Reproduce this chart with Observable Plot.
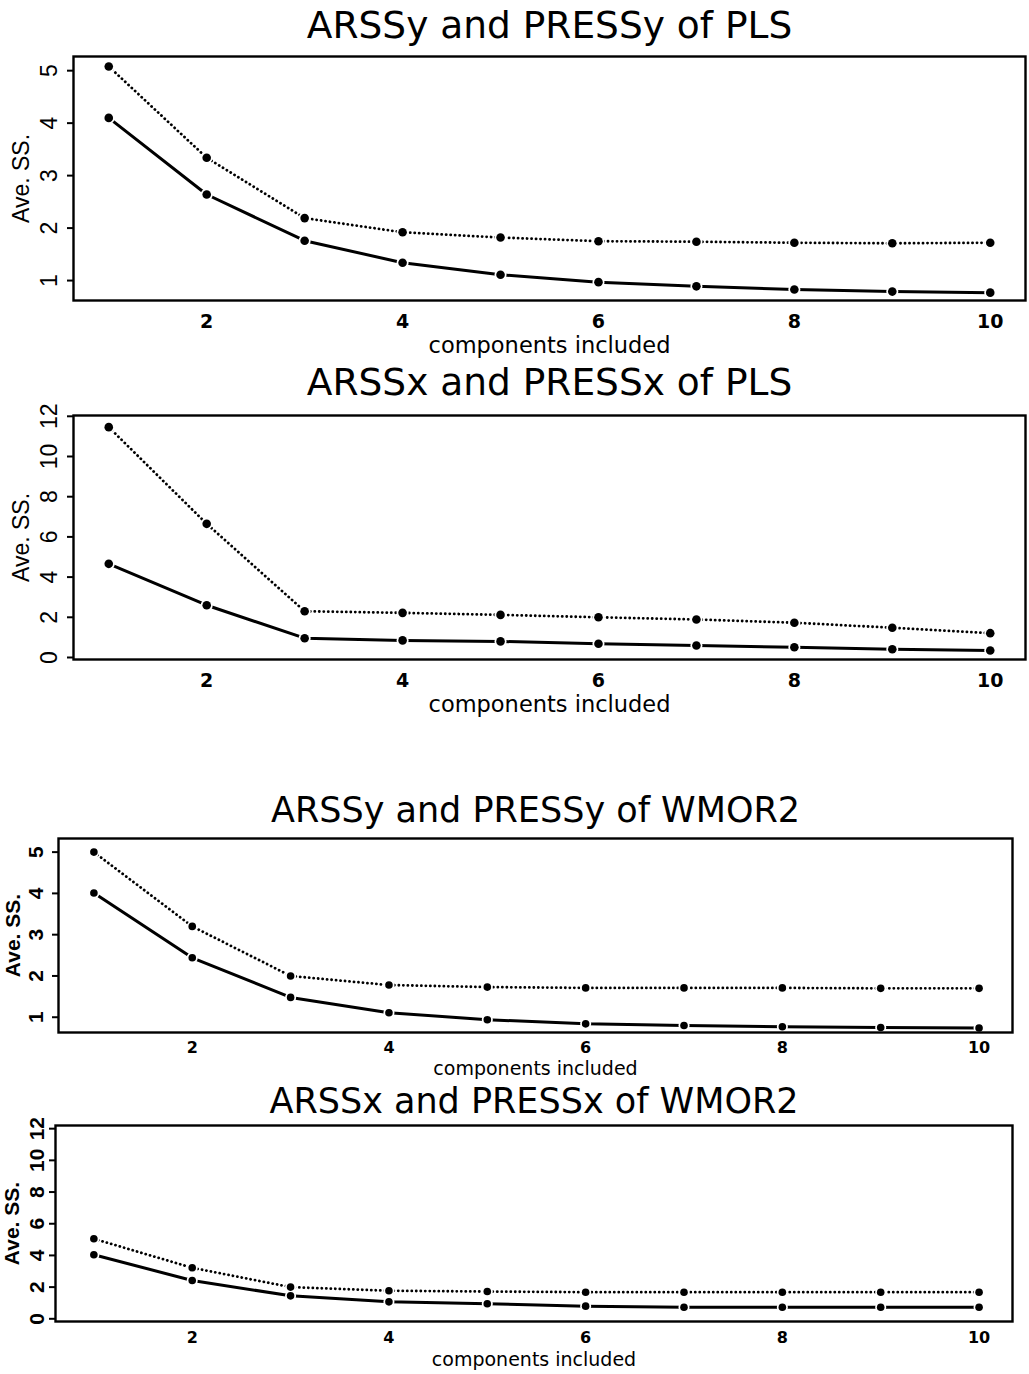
<!DOCTYPE html>
<html><head><meta charset="utf-8">
<script src="https://cdn.jsdelivr.net/npm/d3@7"></script>
<script src="https://cdn.jsdelivr.net/npm/@observablehq/plot@0.6"></script>
<style>
body{margin:0;background:#fff;}
#c{position:relative;width:1029px;height:1374px;overflow:hidden;background:#fff;}
#c svg{position:absolute;left:0;overflow:visible;}
</style></head><body><div id="c"></div>
<script>
// ---- data ----
const components = [1,2,3,4,5,6,7,8,9,10];
const xTicks = [2,4,6,8,10];
const xLabel = "components included";
const yLabel = "Ave. SS.";

const titlePLSy = "ARSSy and PRESSy of PLS";
const pressPLSy = [5.08,3.34,2.19,1.92,1.82,1.75,1.74,1.72,1.71,1.72];
const arssPLSy  = [4.10,2.64,1.76,1.34,1.11,0.97,0.89,0.83,0.79,0.77];
const yTicksPLSy = [1,2,3,4,5];

const titlePLSx = "ARSSx and PRESSx of PLS";
const pressPLSx = [11.46,6.65,2.30,2.22,2.12,2.00,1.89,1.73,1.48,1.21];
const arssPLSx  = [4.66,2.60,0.96,0.85,0.80,0.68,0.60,0.51,0.41,0.35];
const yTicksPLSx = [0,2,4,6,8,10,12];

const titleWMy = "ARSSy and PRESSy of WMOR2";
const pressWMy = [5.00,3.20,2.00,1.78,1.73,1.71,1.71,1.71,1.70,1.70];
const arssWMy  = [4.01,2.44,1.48,1.11,0.94,0.84,0.80,0.77,0.75,0.74];
const yTicksWMy = [1,2,3,4,5];

const titleWMx = "ARSSx and PRESSx of WMOR2";
const pressWMx = [5.05,3.22,2.00,1.77,1.72,1.68,1.68,1.68,1.68,1.68];
const arssWMx  = [4.04,2.42,1.45,1.07,0.95,0.80,0.73,0.73,0.73,0.73];
const yTicksWMx = [0,2,4,6,8,10,12];

// ---- drawing ----
const container = document.getElementById("c");

function panel(o) {
  const press = components.map((c, i) => ({x: c, y: o.press[i]}));
  const arss = components.map((c, i) => ({x: c, y: o.arss[i]}));
  const titleFont = "DejaVu Sans, sans-serif";
  const p = Plot.plot({
    width: 1029,
    height: o.height,
    marginLeft: o.ml, marginRight: o.mr, marginTop: o.mt, marginBottom: o.mb,
    x: {domain: o.xDomain, axis: null},
    y: {domain: o.yDomain, axis: null},
    style: {background: "transparent", color: "black"},
    marks: [
      Plot.line(press, {x: "x", y: "y", stroke: "black", strokeWidth: 2.8, strokeDasharray: "0.1,4.4", strokeLinecap: "round"}),
      Plot.line(arss, {x: "x", y: "y", stroke: "black", strokeWidth: 3}),
      Plot.dot(press, {x: "x", y: "y", r: o.r, fill: "black", stroke: "white", strokeWidth: 3.5}),
      Plot.dot(arss, {x: "x", y: "y", r: o.r, fill: "black", stroke: "white", strokeWidth: 3.5}),
      Plot.dot(press, {x: "x", y: "y", r: o.r, fill: "black"}),
      Plot.dot(arss, {x: "x", y: "y", r: o.r, fill: "black"}),
      Plot.frame({stroke: "black", strokeWidth: 2.4}),
      Plot.axisY({ticks: o.yTicks, tickSize: 6, tickFormat: () => "", label: null, strokeWidth: 2}),
      Plot.text(o.yTicks, {y: d => d, text: d => String(d), frameAnchor: "left", dx: o.ytdx, rotate: -90, textAnchor: "middle", lineAnchor: "middle", fontSize: o.ytfs, fontFamily: o.ytfont, fontWeight: o.ytfw, fill: "black"}),
      Plot.text([yLabel], {frameAnchor: "left", dx: o.yldx, rotate: -90, textAnchor: "middle", lineAnchor: "middle", fontSize: o.ylfs, fontFamily: o.ytfont, fontWeight: o.ylfw, fill: "black"}),
      Plot.text(xTicks, {x: d => d, text: d => String(d), frameAnchor: "bottom", dy: o.xtdy, lineAnchor: "middle", fontSize: o.xtfs, fontFamily: titleFont, fontWeight: "bold", fill: "black"}),
      Plot.text([xLabel], {frameAnchor: "bottom", dy: o.xldy, lineAnchor: "middle", fontSize: o.xlfs, fontFamily: titleFont, fill: "black"}),
      Plot.text([o.title], {frameAnchor: "top", dy: o.tdy, lineAnchor: "middle", fontSize: o.tfs, fontFamily: titleFont, fill: "black"})
    ]
  });
  p.style.top = o.top + "px";
  container.appendChild(p);
}

panel({top: 0, height: 360, ml: 73, mr: 4, mt: 56, mb: 60,
  xDomain: [0.64, 10.36], yDomain: [0.62, 5.27], yTicks: yTicksPLSy,
  press: pressPLSy, arss: arssPLSy, title: titlePLSy, r: 4.3,
  ytdx: -24, ytfs: 23, ytfont: "Liberation Sans, sans-serif", ytfw: "normal",
  yldx: -52, ylfs: 23, ylfw: "normal",
  xtdy: 21, xtfs: 19, xldy: 45, xlfs: 22.5, tdy: -31, tfs: 37.5});

panel({top: 360, height: 360, ml: 73, mr: 4, mt: 55, mb: 61,
  xDomain: [0.64, 10.36], yDomain: [-0.1, 12.04], yTicks: yTicksPLSx,
  press: pressPLSx, arss: arssPLSx, title: titlePLSx, r: 4.3,
  ytdx: -24, ytfs: 23, ytfont: "Liberation Sans, sans-serif", ytfw: "normal",
  yldx: -52, ylfs: 23, ylfw: "normal",
  xtdy: 21, xtfs: 19, xldy: 45, xlfs: 22.5, tdy: -33, tfs: 37.5});

panel({top: 720, height: 360, ml: 58, mr: 17, mt: 118, mb: 48,
  xDomain: [0.64, 10.34], yDomain: [0.63, 5.33], yTicks: yTicksWMy,
  press: pressWMy, arss: arssWMy, title: titleWMy, r: 3.8,
  ytdx: -22, ytfs: 21, ytfont: "Liberation Sans Narrow, Liberation Sans, sans-serif", ytfw: "bold",
  yldx: -45, ylfs: 21, ylfw: "bold",
  xtdy: 15, xtfs: 16, xldy: 36, xlfs: 19, tdy: -28, tfs: 35});

panel({top: 1080, height: 294, ml: 55, mr: 17, mt: 45, mb: 53,
  xDomain: [0.61, 10.34], yDomain: [-0.17, 12.2], yTicks: yTicksWMx,
  press: pressWMx, arss: arssWMx, title: titleWMx, r: 3.8,
  ytdx: -18, ytfs: 21, ytfont: "Liberation Sans Narrow, Liberation Sans, sans-serif", ytfw: "bold",
  yldx: -43, ylfs: 21, ylfw: "bold",
  xtdy: 16, xtfs: 16, xldy: 38, xlfs: 19, tdy: -24, tfs: 35});
</script></body></html>
